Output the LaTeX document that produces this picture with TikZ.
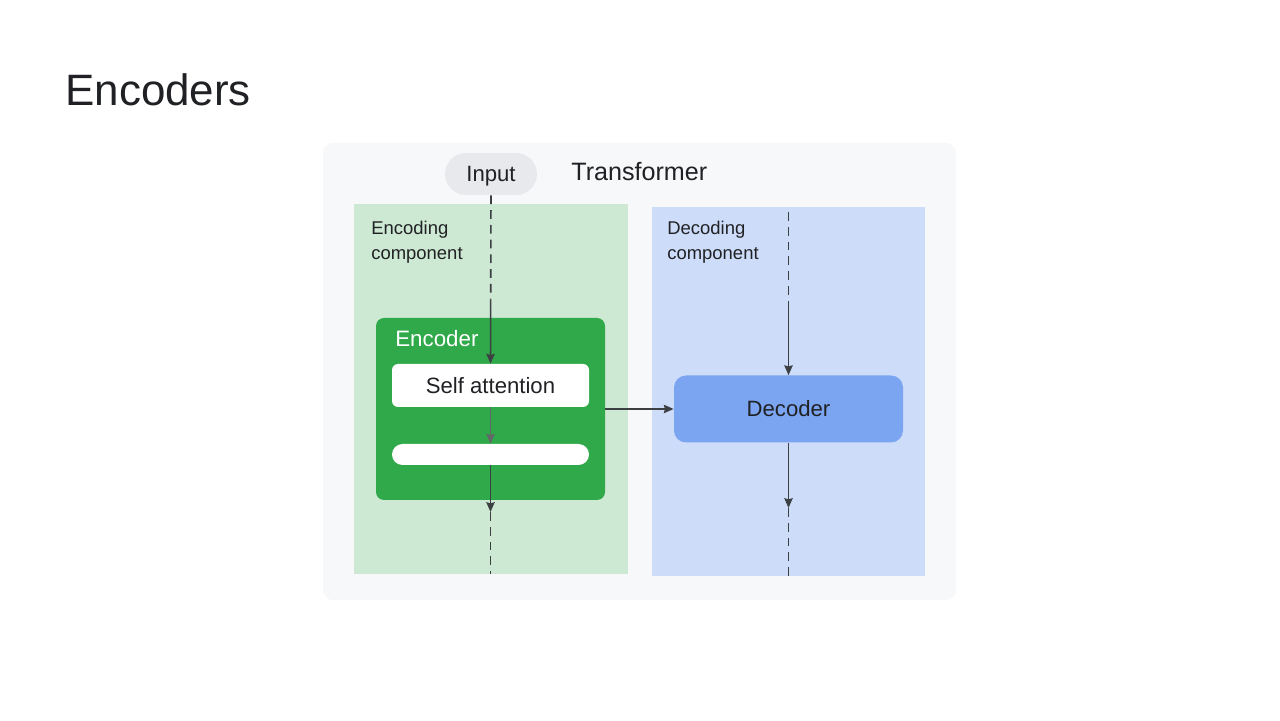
\documentclass[tikz,border=0pt]{standalone}
\usepackage{fontspec}
\setmainfont{Liberation Sans}
\usepackage{tikz}
\usetikzlibrary{arrows.meta,calc}
\usepackage{xcolor}
\definecolor{panelgrey}{RGB}{247,248,250}
\definecolor{pillgrey}{RGB}{232,233,236}
\definecolor{enclight}{RGB}{205,233,211}
\definecolor{declight}{RGB}{205,220,248}
\definecolor{encgreen}{RGB}{47,169,74}
\definecolor{decblue}{RGB}{123,165,240}
\definecolor{arrowgrey}{RGB}{60,64,67}
\definecolor{textdark}{RGB}{32,33,36}

\begin{document}
\begin{tikzpicture}[
    flow/.style={arrowgrey,line width=0.9pt,-{Stealth[length=5.6pt,width=4.8pt,inset=0.7pt]}},
    dashflow/.style={arrowgrey,line width=0.9pt,dash pattern=on 5pt off 3.4pt},
    labelfont/.style={font=\fontsize{12.6}{15}\selectfont,text=textdark},
    compfont/.style={font=\fontsize{10.5}{14.2}\selectfont,text=textdark,align=left,anchor=north west,inner sep=0pt},
    whitebox/.style={fill=white,minimum width=3.94cm,inner sep=0pt}
  ]
    \useasboundingbox (0,0) rectangle (25.6,14.4);
    \fill[white] (0,0) rectangle (25.6,14.4);

    % Title
    \node[anchor=base west,inner sep=0pt,font=\fontsize{25}{30}\selectfont,text=textdark]
      (title) at (1.3,12.28) {Encoders};

    % Outer panel
    \fill[panelgrey,rounded corners=0.2cm] (6.46,2.4) rectangle (19.12,11.54);

    % Component zones
    \fill[enclight] (7.08,2.92) rectangle (12.56,10.32);
    \fill[declight] (13.04,2.88) rectangle (18.5,10.26);
    \node[compfont] (enclabel) at (7.42,9.98) {Encoding\\component};
    \node[compfont] (declabel) at (13.34,9.98) {Decoding\\component};

    % Input and heading
    \node[labelfont,fill=pillgrey,rounded corners=0.42cm,minimum width=1.84cm,
      minimum height=0.84cm,inner sep=0pt,text depth=0pt] (input) at (9.82,10.92) {Input};
    \node[anchor=base west,inner sep=0pt,font=\fontsize{14.3}{17}\selectfont,text=textdark]
      (transformer) at (11.42,10.78) {Transformer};

    % Encoder block
    \node[fill=encgreen,rounded corners=0.16cm,minimum width=4.58cm,minimum height=3.64cm]
      (encoder) at (9.81,6.22) {};
    \node[anchor=base west,inner sep=0pt,font=\fontsize{12.7}{15}\selectfont,text=white]
      (enctitle) at (7.9,7.46) {Encoder};
    \node[labelfont,whitebox,rounded corners=0.12cm,minimum height=0.86cm]
      (selfatt) at (9.81,6.69) {Self attention};
    \node[whitebox,rounded corners=0.21cm,minimum height=0.42cm]
      (ffn) at (9.81,5.31) {};

    % Decoder block
    \node[labelfont,fill=decblue,rounded corners=0.24cm,minimum width=4.58cm,
      minimum height=1.34cm,inner sep=0pt] (decoder) at (15.77,6.22) {Decoder};

    % Flow through the encoder
    \coordinate (encin) at ($(input.south)!0.62!(selfatt.north)$);
    \coordinate (encout) at (9.81,4.16);
    \coordinate (encend) at (9.81,2.92);
    \draw[dashflow] (input.south) -- (encin);
    \draw[flow] (encin) -- (selfatt.north);
    \draw[flow,arrowgrey!80] (selfatt.south) -- (ffn.north);
    \draw[flow] (ffn.south) -- (encout);
    \draw[dashflow] (encout) -- (encend);

    % Encoder to decoder
    \draw[flow] (encoder.east) -- (decoder.west);

    % Flow through the decoder
    \coordinate (decstart) at (15.77,10.16);
    \coordinate (decin) at (15.77,8.3);
    \coordinate (decout) at (15.77,4.24);
    \coordinate (decend) at (15.77,2.88);
    \draw[dashflow] (decstart) -- (decin);
    \draw[flow] (decin) -- (decoder.north);
    \draw[flow] (decoder.south) -- (decout);
    \draw[dashflow] (decout) -- (decend);
  \end{tikzpicture}
\end{document}
